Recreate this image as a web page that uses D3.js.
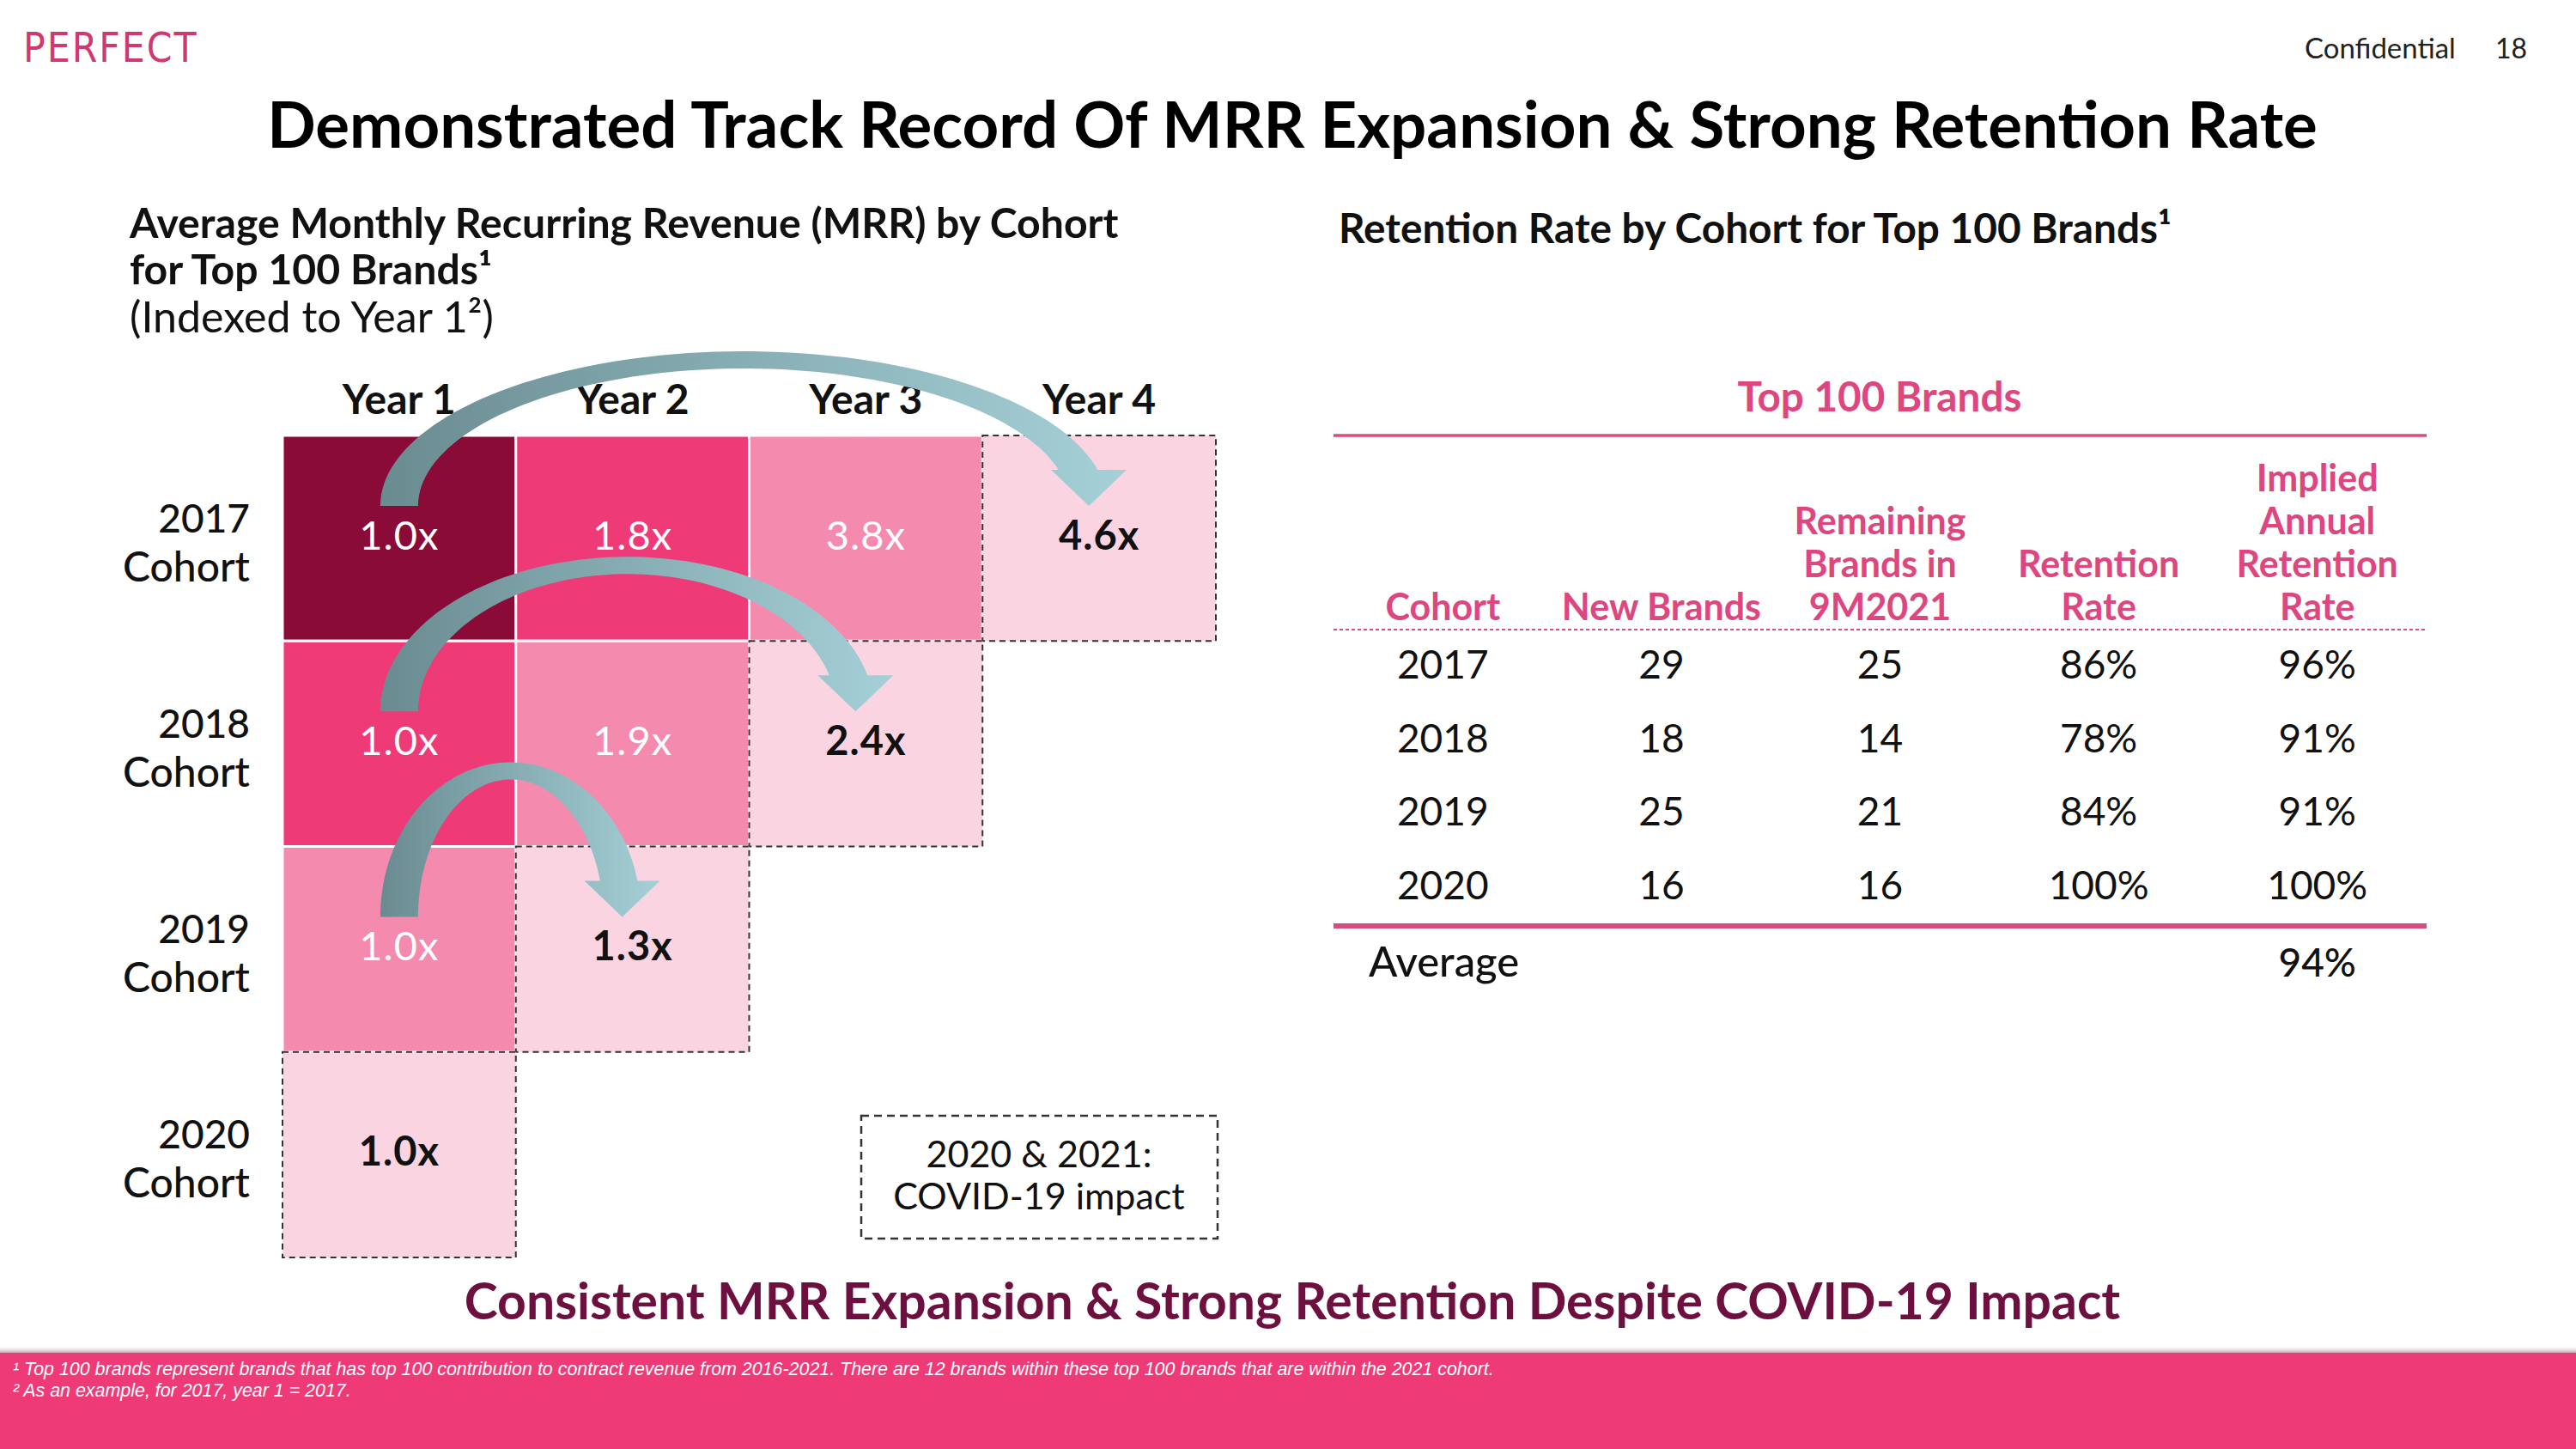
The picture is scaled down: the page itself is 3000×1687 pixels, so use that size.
<!DOCTYPE html>
<html>
<head>
<meta charset="utf-8">
<script src="https://cdn.jsdelivr.net/npm/d3@7"></script>
<style>
  html, body { margin: 0; padding: 0; background: #ffffff; }
  svg { display: block; }
</style>
</head>
<body>
<svg id="chart" width="3000" height="1687"></svg>
<script>
// ---------------- DATA ----------------
const years = ["Year 1", "Year 2", "Year 3", "Year 4"];
const cohorts = ["2017", "2018", "2019", "2020"];
const mrr2017 = [1.0, 1.8, 3.8, 4.6];
const mrr2018 = [1.0, 1.9, 2.4];
const mrr2019 = [1.0, 1.3];
const mrr2020 = [1.0];
const mrrByCohort = [mrr2017, mrr2018, mrr2019, mrr2020];
const covidYears = [2020, 2021];

const tableColumns = ["Cohort", "New Brands", "Remaining Brands in 9M2021", "Retention Rate", "Implied Annual Retention Rate"];
const tableHeaderLines = [["Cohort"], ["New Brands"], ["Remaining", "Brands in", "9M2021"], ["Retention", "Rate"], ["Implied", "Annual", "Retention", "Rate"]];
const newBrands = [29, 18, 25, 16];
const remainingBrands = [25, 14, 21, 16];
const retentionRate = [86, 78, 84, 100];
const impliedAnnualRate = [96, 91, 91, 100];
const averageImplied = 94;

// ---------------- SETUP ----------------
const svg = d3.select("#chart");
const W = 3000, H = 1687;
const FONT = "Lato, 'Open Sans', sans-serif";
svg.append("rect").attr("width", W).attr("height", H).attr("fill", "#ffffff");

function fit(sel, target) {
  const n = sel.node();
  const cur = n.getComputedTextLength();
  const fs = parseFloat(sel.attr("font-size"));
  if (cur > 0) sel.attr("font-size", fs * target / cur);
  return sel;
}

// ---------------- HEADER ----------------
fit(svg.append("text").attr("x", 27).attr("y", 72)
  .attr("font-family", "'Liberation Sans Narrow', 'DejaVu Sans Condensed', sans-serif")
  .attr("font-weight", 300).attr("font-size", 50).attr("fill", "#d0396f")
  .attr("letter-spacing", 2).text("PERFECT"), 203);

fit(svg.append("text").attr("x", 2684).attr("y", 68).attr("font-family", FONT)
  .attr("font-size", 32).attr("fill", "#222").text("Confidential"), 176);
svg.append("text").attr("x", 2906).attr("y", 68).attr("font-family", FONT)
  .attr("font-size", 32).attr("fill", "#222").text("18");

fit(svg.append("text").attr("x", 1505).attr("y", 172).attr("text-anchor", "middle")
  .attr("font-family", FONT).attr("font-weight", 700).attr("font-size", 76).attr("fill", "#000")
  .text("Demonstrated Track Record Of MRR Expansion & Strong Retention Rate"), 2388);

// left subtitle
const subL = [
  { t: "Average Monthly Recurring Revenue (MRR) by Cohort", y: 277 },
  { t: "for Top 100 Brands¹", y: 331 },
  { t: "(Indexed to Year 1²)", y: 387 }
];
const s1 = svg.append("text").attr("x", 151).attr("y", subL[0].y).attr("font-family", FONT)
  .attr("font-weight", 700).attr("font-size", 44).attr("fill", "#111").text(subL[0].t);
fit(s1, 1152);
const fsSub = s1.attr("font-size");
svg.append("text").attr("x", 151).attr("y", subL[1].y).attr("font-family", FONT)
  .attr("font-weight", 700).attr("font-size", fsSub).attr("fill", "#111").text(subL[1].t);
svg.append("text").attr("x", 151).attr("y", subL[2].y).attr("font-family", FONT)
  .attr("font-weight", 400).attr("font-size", fsSub * 1.04).attr("fill", "#111").text(subL[2].t);

fit(svg.append("text").attr("x", 1559).attr("y", 283).attr("font-family", FONT)
  .attr("font-weight", 700).attr("font-size", 44).attr("fill", "#111")
  .text("Retention Rate by Cohort for Top 100 Brands¹"), 970);

// ---------------- COHORT GRID ----------------
const x = d3.scaleBand().domain(years).range([329, 1416]).paddingInner(0);
const y = d3.scaleBand().domain(cohorts).range([507, 1464]).paddingInner(0);
const colorByCalYear = d3.scaleOrdinal()
  .domain([2017, 2018, 2019, 2020])
  .range(["#8a0b37", "#ee3a77", "#f48aad", "#fbd4e2"]);
const textByCalYear = d3.scaleOrdinal()
  .domain([2017, 2018, 2019, 2020])
  .range(["#ffffff", "#ffffff", "#ffffff", "#111111"]);

const cells = [];
mrrByCohort.forEach((vals, ci) => {
  vals.forEach((v, yi) => {
    const cal = +cohorts[ci] + yi;
    cells.push({ cohort: cohorts[ci], year: years[yi], value: v, cal: cal, covid: covidYears.includes(cal) });
  });
});

const grid = svg.append("g");
grid.selectAll("rect.solid").data(cells.filter(d => !d.covid)).join("rect")
  .attr("class", "solid")
  .attr("x", d => x(d.year)).attr("y", d => y(d.cohort))
  .attr("width", x.bandwidth()).attr("height", y.bandwidth())
  .attr("fill", d => colorByCalYear(d.cal))
  .attr("stroke", "#ffffff").attr("stroke-width", 3);
grid.selectAll("rect.dash").data(cells.filter(d => d.covid)).join("rect")
  .attr("class", "dash")
  .attr("x", d => x(d.year)).attr("y", d => y(d.cohort))
  .attr("width", x.bandwidth()).attr("height", y.bandwidth())
  .attr("fill", d => colorByCalYear(d.cal))
  .attr("stroke", "#333").attr("stroke-width", 2).attr("stroke-dasharray", "7,5");

grid.selectAll("text.val").data(cells).join("text")
  .attr("class", "val")
  .attr("x", d => x(d.year) + x.bandwidth() / 2)
  .attr("y", d => y(d.cohort) + y.bandwidth() / 2 + 13)
  .attr("text-anchor", "middle").attr("font-family", FONT).attr("font-size", 47)
  .attr("font-weight", d => d.covid ? 700 : 400)
  .attr("letter-spacing", 1)
  .attr("fill", d => d.covid ? "#111" : textByCalYear(d.cal))
  .text(d => d3.format(".1f")(d.value) + "x");

// column headers
svg.selectAll("text.yr").data(years).join("text").attr("class", "yr")
  .attr("x", d => x(d) + x.bandwidth() / 2).attr("y", 482)
  .attr("text-anchor", "middle").attr("font-family", FONT).attr("font-weight", 700)
  .attr("font-size", 48).attr("fill", "#111").text(d => d);

// row labels
const rl = svg.selectAll("g.rl").data(cohorts).join("g").attr("class", "rl");
rl.append("text").attr("x", 291).attr("y", d => y(d) + y.bandwidth() / 2 - 7)
  .attr("text-anchor", "end").attr("font-family", FONT).attr("font-size", 46)
  .attr("font-weight", 500).attr("fill", "#111").text(d => d);
rl.append("text").attr("x", 291).attr("y", d => y(d) + y.bandwidth() / 2 + 50)
  .attr("text-anchor", "end").attr("font-family", FONT).attr("font-size", 48)
  .attr("font-weight", 500).attr("fill", "#111").text("Cohort");

// arrows: from Year 1 of each cohort to its latest year
const defs = svg.append("defs");
function arrowPath(x0, x1, base, ry, wEnd, wTop, headLen, headW) {
  const cx = (x0 + x1) / 2, a = (x1 - x0) / 2;
  const rxo = a + wEnd / 2, rxi = a - wEnd / 2, ryo = ry, ryi = ry - wTop;
  const tO = Math.asin(headLen / ryo), tI = Math.asin(headLen / ryi);
  const pts = [];
  const N = 80;
  for (let i = 0; i <= N; i++) {
    const t = Math.PI - (Math.PI - tO) * i / N;
    pts.push([cx + rxo * Math.cos(t), base - ryo * Math.sin(t)]);
  }
  pts.push([x1 + headW / 2, base - headLen]);
  pts.push([x1, base]);
  pts.push([x1 - headW / 2, base - headLen]);
  for (let i = 0; i <= N; i++) {
    const t = tI + (Math.PI - tI) * i / N;
    pts.push([cx + rxi * Math.cos(t), base - ryi * Math.sin(t)]);
  }
  return "M" + pts.map(p => p[0].toFixed(1) + "," + p[1].toFixed(1)).join("L") + "Z";
}
const arrows = mrrByCohort.map((vals, ci) => ({ cohort: cohorts[ci], from: years[0], to: years[vals.length - 1], n: vals.length }))
  .filter(d => d.n > 1);
arrows.forEach((d, i) => {
  const x0 = x(d.from) + x.bandwidth() / 2;
  const x1 = x(d.to) + x.bandwidth() / 2;
  const g = defs.append("linearGradient").attr("id", "ag" + i)
    .attr("gradientUnits", "userSpaceOnUse")
    .attr("x1", x0 - 20).attr("x2", x1 + 40).attr("y1", 0).attr("y2", 0);
  g.append("stop").attr("offset", 0).attr("stop-color", "#6a8c91");
  g.append("stop").attr("offset", 0.5).attr("stop-color", "#88afb5");
  g.append("stop").attr("offset", 1).attr("stop-color", "#a6d1d8");
});
svg.selectAll("path.arrow").data(arrows).join("path").attr("class", "arrow")
  .attr("d", d => {
    const x0 = x(d.from) + x.bandwidth() / 2;
    const x1 = x(d.to) + x.bandwidth() / 2 - 12;
    const base = y(d.cohort) + 82;
    return arrowPath(x0, x1, base, 180, 44, 20, 42, 88);
  })
  .attr("fill", (d, i) => "url(#ag" + i + ")");

// COVID box
svg.append("rect").attr("x", 1003).attr("y", 1299).attr("width", 415).attr("height", 143)
  .attr("fill", "none").attr("stroke", "#333").attr("stroke-width", 2.5).attr("stroke-dasharray", "9,6");
svg.append("text").attr("x", 1210).attr("y", 1359).attr("text-anchor", "middle")
  .attr("font-family", FONT).attr("font-size", 43).attr("fill", "#111").text("2020 & 2021:");
svg.append("text").attr("x", 1210).attr("y", 1408).attr("text-anchor", "middle")
  .attr("font-family", FONT).attr("font-size", 43).attr("fill", "#111").text("COVID-19 impact");

// ---------------- RETENTION TABLE ----------------
const PINK = "#de4680";
const LINE = "#d94c80";
const tx = d3.scaleBand().domain(tableColumns).range([1553, 2826]);
const ty = d3.scalePoint().domain(cohorts).range([790, 1047]);
const tcx = c => tx(c) + tx.bandwidth() / 2;

fit(svg.append("text").attr("x", 2189).attr("y", 479).attr("text-anchor", "middle")
  .attr("font-family", FONT).attr("font-weight", 700).attr("font-size", 44).attr("fill", PINK)
  .text("Top 100 Brands"), 331);
svg.append("line").attr("x1", 1553).attr("x2", 2826).attr("y1", 507).attr("y2", 507)
  .attr("stroke", LINE).attr("stroke-width", 3.5);

tableColumns.forEach((c, i) => {
  const lines = tableHeaderLines[i];
  lines.forEach((ln, j) => {
    svg.append("text").attr("x", tcx(c)).attr("y", 722 - (lines.length - 1 - j) * 50)
      .attr("text-anchor", "middle").attr("font-family", FONT).attr("font-weight", 700)
      .attr("font-size", 43).attr("fill", PINK).text(ln);
  });
});
svg.append("line").attr("x1", 1553).attr("x2", 2826).attr("y1", 733).attr("y2", 733)
  .attr("stroke", LINE).attr("stroke-width", 2).attr("stroke-dasharray", "4,3");

const rows = cohorts.map((c, i) => [c, newBrands[i], remainingBrands[i], retentionRate[i] + "%", impliedAnnualRate[i] + "%"]);
rows.forEach((r, i) => {
  r.forEach((v, j) => {
    svg.append("text").attr("x", tcx(tableColumns[j])).attr("y", ty(cohorts[i]))
      .attr("text-anchor", "middle").attr("font-family", FONT).attr("font-size", 46)
      .attr("fill", "#111").text(v);
  });
});
svg.append("line").attr("x1", 1553).attr("x2", 2826).attr("y1", 1078).attr("y2", 1078)
  .attr("stroke", LINE).attr("stroke-width", 6);
svg.append("text").attr("x", 1594).attr("y", 1137).attr("font-family", FONT)
  .attr("font-weight", 500).attr("font-size", 49).attr("fill", "#111").text("Average");
svg.append("text").attr("x", tcx(tableColumns[4])).attr("y", 1137).attr("text-anchor", "middle")
  .attr("font-family", FONT).attr("font-weight", 500).attr("font-size", 46).attr("fill", "#111")
  .text(averageImplied + "%");

// ---------------- TAGLINE & FOOTER ----------------
fit(svg.append("text").attr("x", 1505).attr("y", 1536).attr("text-anchor", "middle")
  .attr("font-family", FONT).attr("font-weight", 700).attr("font-size", 56).attr("fill", "#6d1040")
  .text("Consistent MRR Expansion & Strong Retention Despite COVID-19 Impact"), 1929);

const sh = defs.append("linearGradient").attr("id", "shadow").attr("x1", 0).attr("x2", 0).attr("y1", 0).attr("y2", 1);
sh.append("stop").attr("offset", 0).attr("stop-color", "#ffffff").attr("stop-opacity", 0);
sh.append("stop").attr("offset", 1).attr("stop-color", "#9a6a7a").attr("stop-opacity", 0.6);
svg.append("rect").attr("x", 0).attr("y", 1566).attr("width", W).attr("height", 9).attr("fill", "url(#shadow)");
svg.append("rect").attr("x", 0).attr("y", 1575).attr("width", W).attr("height", H - 1575).attr("fill", "#ee3a76");

const fn1 = fit(svg.append("text").attr("x", 15).attr("y", 1601)
  .attr("font-family", "'Liberation Sans', Arial, sans-serif").attr("font-style", "italic")
  .attr("font-size", 18).attr("fill", "#ffffff")
  .text("¹ Top 100 brands represent brands that has top 100 contribution to contract revenue from 2016-2021. There are 12 brands within these top 100 brands that are within the 2021 cohort."), 1726);
svg.append("text").attr("x", 15).attr("y", 1626)
  .attr("font-family", "'Liberation Sans', Arial, sans-serif").attr("font-style", "italic")
  .attr("font-size", fn1.attr("font-size")).attr("fill", "#ffffff")
  .text("² As an example, for 2017, year 1 = 2017.");
</script>
</body>
</html>
